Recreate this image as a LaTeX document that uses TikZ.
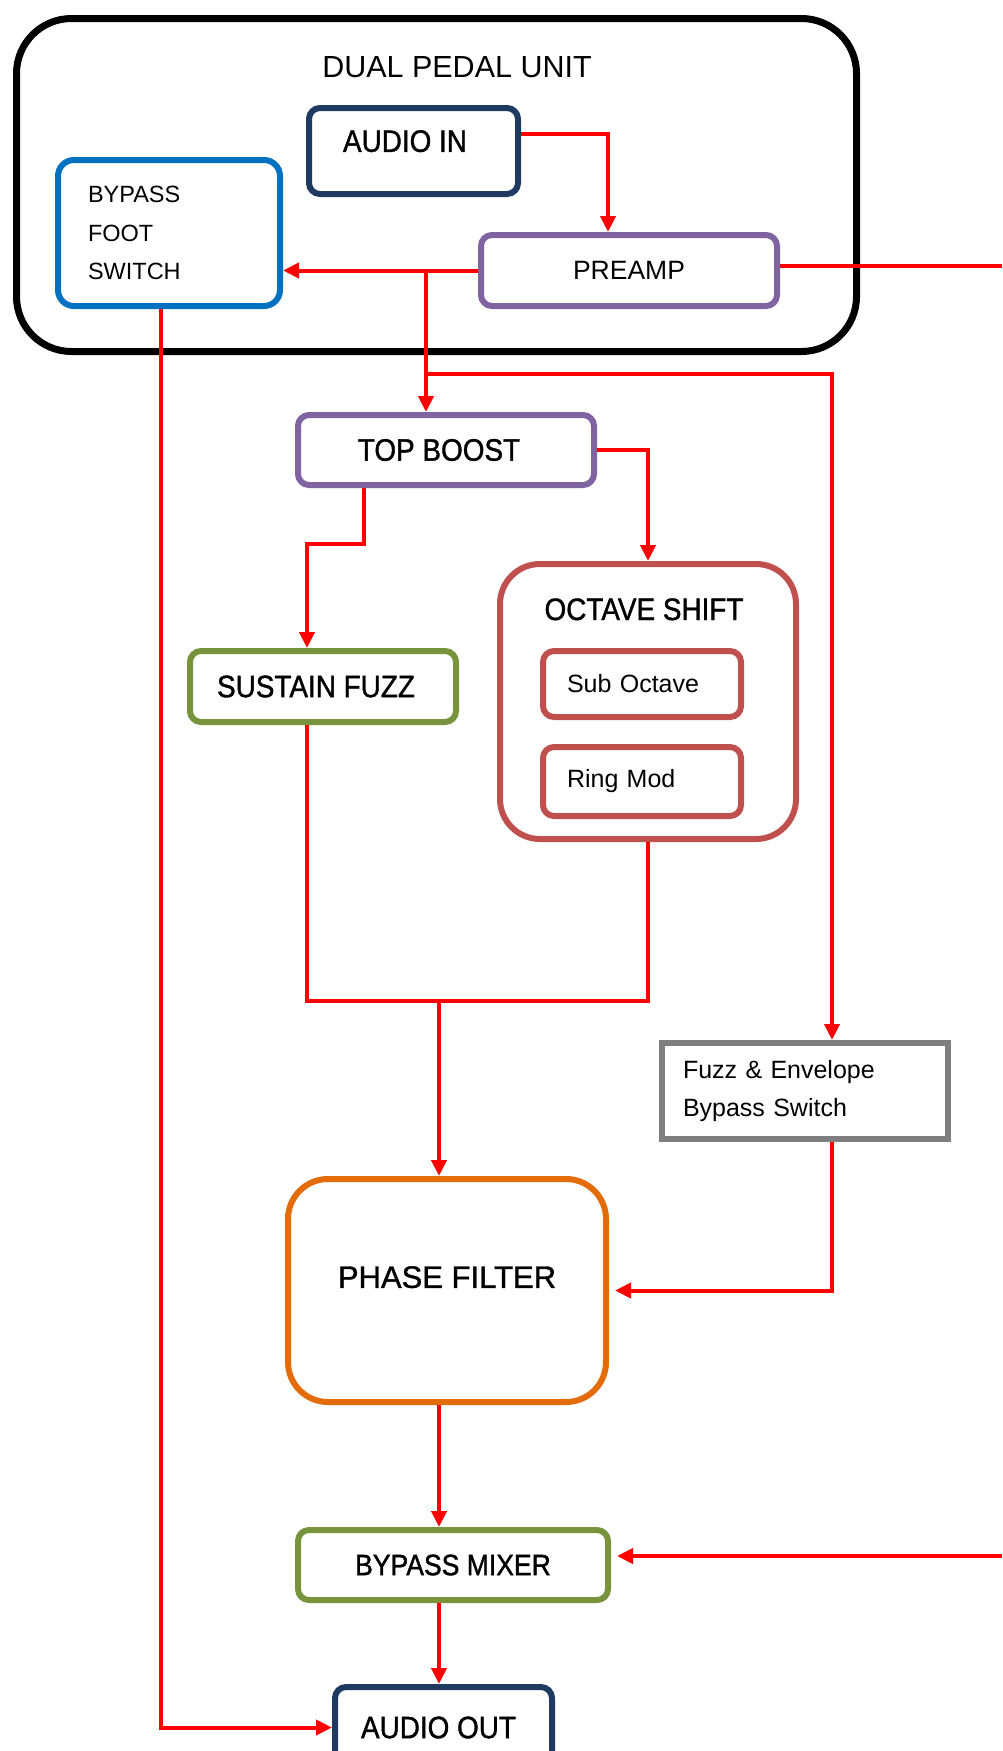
\documentclass[tikz,border=0pt]{standalone}
\usepackage{fontspec}
\setmainfont{Liberation Sans}
\newfontfamily\narrowfont[FakeStretch=0.9, FakeBold=1.2]{Liberation Sans}
\newfontfamily\heavyfont[FakeBold=1.2]{Liberation Sans}
\usetikzlibrary{arrows.meta, positioning}

\definecolor{navyline}{HTML}{1F3A60}
\definecolor{blueline}{HTML}{0070C0}
\definecolor{purpleline}{HTML}{8064A2}
\definecolor{greenline}{HTML}{77933C}
\definecolor{redline}{HTML}{C0504D}
\definecolor{grayline}{HTML}{7F7F7F}
\definecolor{orangeline}{HTML}{E36C09}
\definecolor{signal}{HTML}{FF0000}

\begin{document}
\begin{tikzpicture}[
    x=1pt, y=-1pt,
    unitbox/.style={rectangle, draw=black, line width=7pt, rounded corners=55pt},
    blockbox/.style={rectangle, draw, line width=6pt, rounded corners=11pt, inner sep=0pt, align=center, font=\narrowfont\fontsize{31}{36}\selectfont},
    plainbox/.style={rectangle, draw, line width=6pt, rounded corners=11pt, inner sep=0pt, align=center, font=\fontsize{26.5}{32}\selectfont},
    listbox/.style={rectangle, draw, line width=6pt, rounded corners=11pt, inner sep=0pt, align=left},
    titlelabel/.style={anchor=base, inner sep=0pt, font=\fontsize{30.5}{36}\selectfont},
    arrow/.style={-{Triangle[length=16pt, width=15pt]}, draw=signal, line width=4pt},
    wire/.style={draw=signal, line width=4pt},
]
\fill[white] (0,0) rectangle (1002,1751);
\useasboundingbox (0,0) rectangle (1002,1751);

% ============ Dual pedal unit ============
\node[unitbox, minimum width=840pt, minimum height=333pt] (unit) at (436.5,185) {};
\node[titlelabel] (unittitle) at (457,77) {DUAL PEDAL UNIT};

\node[blockbox, draw=navyline, minimum width=209pt, minimum height=86pt, text depth=20pt] (ain) at (413.5,151) {AUDIO IN\hspace*{17pt}};
\node[listbox, draw=blueline, rounded corners=16pt, minimum width=222pt, minimum height=146pt, text width=162pt,
      font=\fontsize{23.5}{38.5}\selectfont] (bfs) at (169,233) {BYPASS\\FOOT\\SWITCH};
\node[plainbox, draw=purpleline, minimum width=296pt, minimum height=71pt] (pre) at (629,270.5) {PREAMP};

% ============ Effect chain ============
\node[blockbox, draw=purpleline, minimum width=296pt, minimum height=70pt] (tb) at (446,450) {TOP BOOST\hspace*{14pt}};
\node[blockbox, draw=greenline, minimum width=266pt, minimum height=71pt] (sf) at (323,686.5) {SUSTAIN FUZZ\hspace*{14pt}};

\node[rectangle, draw=redline, line width=6pt, rounded corners=40pt, minimum width=296pt, minimum height=275pt] (oct) at (648,701.5) {};
\node[titlelabel, font=\narrowfont\fontsize{31}{36}\selectfont] (octtitle) at (644,620) {OCTAVE SHIFT};
\node[listbox, draw=redline, minimum width=198pt, minimum height=66pt, text width=150pt,
      font=\fontsize{25}{30}\selectfont] (sub) at (642,684) {Sub Octave};
\node[listbox, draw=redline, minimum width=198pt, minimum height=69pt, text width=150pt,
      font=\fontsize{25}{30}\selectfont] (ring) at (642,781.5) {Ring Mod};

\node[listbox, draw=grayline, rounded corners=0pt, minimum width=286pt, minimum height=96pt, text width=244pt,
      font=\fontsize{25}{38}\selectfont] (fe) at (805,1091) {Fuzz \& Envelope\\Bypass Switch};

\node[blockbox, draw=orangeline, rounded corners=40pt, minimum width=318pt, minimum height=223pt, text depth=27pt,
      font=\heavyfont\fontsize{31}{36}\selectfont] (pf) at (447,1290.5) {PHASE FILTER};

\node[blockbox, draw=greenline, minimum width=310pt, minimum height=70pt,
      font=\narrowfont\fontsize{29.5}{36}\selectfont] (bm) at (453,1565) {BYPASS MIXER};
\node[blockbox, draw=navyline, minimum width=217pt, minimum height=81pt] (aout) at (443.5,1727.5) {AUDIO OUT\hspace*{10pt}};

% ============ Signal lines ============
\coordinate (split) at (426,270.5);
\coordinate (tap) at (426,374);
\coordinate (merge) at (439,1001);
\coordinate (edgeout) at (1002,266);
\coordinate (edgein) at (1002,1556);

\draw[arrow] ([yshift=17pt]ain.east) -| ([xshift=-21pt]pre.north);
\draw[arrow] (pre.west) -- (pre.west -| bfs.east);
\draw[wire] (pre.east |- edgeout) -- (edgeout);
\draw[arrow] (split) -- (split |- tb.north);
\draw[arrow] (tap) -| ([xshift=27pt]fe.north);

\draw[arrow] (tb.east) -| (oct.north);
\draw[arrow] ([xshift=-82pt]tb.south) -- ++(0,56) -| ([xshift=-16pt]sf.north);
\draw[wire] ([xshift=-16pt]sf.south) |- (merge);
\draw[wire] (oct.south) |- (merge);
\draw[arrow] (merge) -- (merge |- pf.north);
\draw[arrow, shorten >=6pt] ([xshift=27pt]fe.south) |- (pf.east);

\draw[arrow] (merge |- pf.south) -- (merge |- bm.north);
\draw[arrow, shorten >=6pt] (edgein) -- (edgein -| bm.east);
\draw[arrow] (merge |- bm.south) -- (merge |- aout.north);
\draw[arrow] ([xshift=-8pt]bfs.south) |- (aout.west);

\end{tikzpicture}
\end{document}
